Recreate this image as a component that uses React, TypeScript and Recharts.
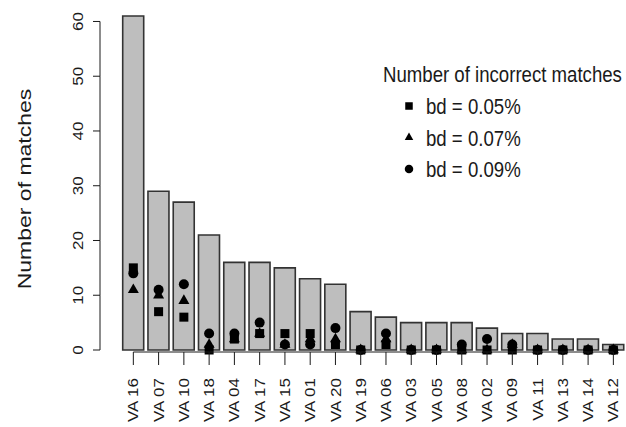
import { Bar, ComposedChart, Legend, Scatter, XAxis, YAxis } from 'recharts';

// counts per sample, sorted as in the figure
const categories = [
  'VA 16', 'VA 07', 'VA 10', 'VA 18', 'VA 04', 'VA 17', 'VA 15', 'VA 01', 'VA 20', 'VA 19',
  'VA 06', 'VA 03', 'VA 05', 'VA 08', 'VA 02', 'VA 09', 'VA 11', 'VA 13', 'VA 14', 'VA 12',
];
const matches = [61, 29, 27, 21, 16, 16, 15, 13, 12, 7, 6, 5, 5, 5, 4, 3, 3, 2, 2, 1];
const bd005 = [15, 7, 6, 0, 2, 3, 3, 3, 1, 0, 1, 0, 0, 0, 0, 0, 0, 0, 0, 0];
const bd007 = [11, 10, 9, 1, 2, 3, 1, 2, 2, 0, 2, 0, 0, 0, 0, 1, 0, 0, 0, 0];
const bd009 = [14, 11, 12, 3, 3, 5, 1, 1, 4, 0, 3, 0, 0, 1, 2, 1, 0, 0, 0, 0];

const yTicks = [0, 10, 20, 30, 40, 50, 60];
const yTitle = 'Number of matches';
const legendTitle = 'Number of incorrect matches';
const legendLabels = ['bd = 0.05%', 'bd = 0.07%', 'bd = 0.09%'];

const data = categories.map((name, i) => ({
  name,
  matches: matches[i],
  bd005: bd005[i],
  bd007: bd007[i],
  bd009: bd009[i],
}));

const W = 626;
const H = 427;
const MARGIN = { top: 16, right: 0, bottom: 0, left: 0 };
const Y_AXIS_W = 100;
const X_AXIS_H = 77;
const X_PAD_LEFT = 20.7;
const Y_MAX = 61;
const FONT = "'Liberation Sans', Arial, Helvetica, sans-serif";
const INK = '#1a1a1a';
// the original figure is a little narrower than it is tall, so text is squeezed sideways
const SQUASH = 0.83;
const LEGEND_SQUASH = 0.81;

const plotTop = MARGIN.top;
const plotBottom = H - MARGIN.bottom - X_AXIS_H;
const bandWidth = (W - MARGIN.right - Y_AXIS_W - X_PAD_LEFT) / categories.length;
const pxPerUnit = (plotBottom - plotTop) / Y_MAX;

function YTick({ x, y, payload }: any) {
  const v = payload.value;
  return (
    <g>
      <line x1={x - 7} x2={x} y1={y} y2={y} stroke={INK} strokeWidth={1} />
      {v > 0 && (
        <line x1={x} x2={x} y1={y} y2={y + 10 * pxPerUnit} stroke={INK} strokeWidth={1} />
      )}
      <text
        transform={`translate(${x - 22},${y}) scale(${SQUASH},1) rotate(-90)`}
        textAnchor="middle"
        dy="0.36em"
        fontSize={17}
        fontFamily={FONT}
        fill={INK}
      >
        {v}
      </text>
    </g>
  );
}

function XTick({ x, y, payload, index }: any) {
  const last = index === categories.length - 1;
  return (
    <g>
      <line x1={x} x2={x} y1={y + 2} y2={y + 15} stroke={INK} strokeWidth={1} />
      {!last && (
        <line x1={x} x2={x + bandWidth} y1={y + 2} y2={y + 2} stroke={INK} strokeWidth={1} />
      )}
      <text
        transform={`translate(${x},${y + 28}) scale(${SQUASH},1) rotate(-90)`}
        textAnchor="end"
        dy="0.36em"
        fontSize={17}
        fontFamily={FONT}
        fill={INK}
      >
        {payload.value}
      </text>
    </g>
  );
}

function YTitle() {
  return (
    <text
      transform={`translate(24,189) scale(${SQUASH},1) rotate(-90)`}
      textAnchor="middle"
      dy="0.36em"
      fontSize={23}
      fontFamily={FONT}
      fill={INK}
    >
      {yTitle}
    </text>
  );
}

const square = (cx: number, cy: number, s: number) => (
  <rect x={cx - s / 2} y={cy - s / 2} width={s} height={s} fill="#000" />
);
const triangle = (cx: number, cy: number, s: number) => {
  const h = s * 0.87;
  return (
    <path
      d={`M${cx},${cy - (h * 2) / 3}L${cx + s / 2},${cy + h / 3}L${cx - s / 2},${cy + h / 3}Z`}
      fill="#000"
    />
  );
};
const circle = (cx: number, cy: number, s: number) => <circle cx={cx} cy={cy} r={s / 2} fill="#000" />;

const markers = [square, triangle, circle];

function LegendBox() {
  const titleY = 74;
  const rowY = [106, 137.5, 169];
  return (
    <svg width={W} height={200} style={{ display: 'block' }}>
      <text
        transform={`translate(383,${titleY}) scale(${LEGEND_SQUASH},1)`}
        dy="0.36em"
        fontSize={23}
        fontFamily={FONT}
        fill={INK}
      >
        {legendTitle}
      </text>
      {legendLabels.map((label, i) => (
        <g key={label}>
          {markers[i](409, rowY[i], i === 0 ? 7.5 : 8.5)}
          <text
            transform={`translate(426,${rowY[i]}) scale(${LEGEND_SQUASH},1)`}
            dy="0.36em"
            fontSize={23}
            fontFamily={FONT}
            fill={INK}
          >
            {label}
          </text>
        </g>
      ))}
    </svg>
  );
}

export default function App() {
  return (
    <div style={{ position: 'absolute', left: 0, top: 0, background: '#fff' }}>
      <ComposedChart width={W} height={H} data={data} margin={MARGIN}>
        <XAxis
          dataKey="name"
          interval={0}
          height={X_AXIS_H}
          padding={{ left: X_PAD_LEFT, right: 0 }}
          axisLine={false}
          tickLine={false}
          tickSize={0}
          tickMargin={0}
          tick={<XTick />}
        />
        <YAxis
          type="number"
          domain={[0, Y_MAX]}
          ticks={yTicks}
          width={Y_AXIS_W}
          axisLine={false}
          tickLine={false}
          tickSize={0}
          tickMargin={0}
          tick={<YTick />}
          label={<YTitle />}
        />
        <Legend
          layout="vertical"
          align="center"
          verticalAlign="middle"
          wrapperStyle={{ position: 'absolute', left: 0, top: 0, width: W, height: 200 }}
          content={() => <LegendBox />}
        />
        <Bar
          dataKey="matches"
          fill="#bebebe"
          stroke="#333"
          strokeWidth={1.6}
          barSize={21}
          isAnimationActive={false}
        />
        <Scatter
          dataKey="bd005"
          isAnimationActive={false}
          shape={(p: any) => square(p.cx, p.cy, 9)}
        />
        <Scatter
          dataKey="bd007"
          isAnimationActive={false}
          shape={(p: any) => triangle(p.cx, p.cy, 11)}
        />
        <Scatter
          dataKey="bd009"
          isAnimationActive={false}
          shape={(p: any) => circle(p.cx, p.cy, 10)}
        />
      </ComposedChart>
    </div>
  );
}
